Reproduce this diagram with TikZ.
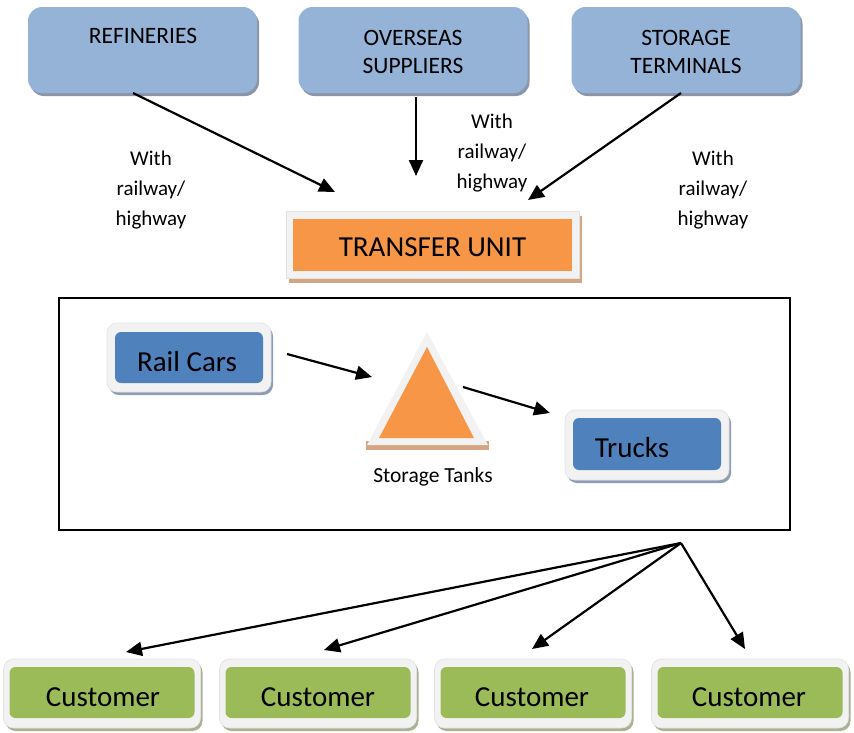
\documentclass[tikz,border=0pt]{standalone}
\usepackage{fontspec}
\setmainfont{Carlito}
\usetikzlibrary{arrows.meta,shadows}

\definecolor{topblue}{HTML}{95B3D7}
\definecolor{topshade}{HTML}{8A96A8}
\definecolor{framegray}{HTML}{F2F2F2}
\definecolor{frameedge}{HTML}{E2E2E2}
\definecolor{railblue}{HTML}{4F81BD}
\definecolor{blueshade}{HTML}{8E9DB4}
\definecolor{tankorange}{HTML}{F79646}
\definecolor{tanshade}{HTML}{D4A582}
\definecolor{custgreen}{HTML}{9BBB59}
\definecolor{greenshade}{HTML}{A9B393}

\begin{document}
\begin{tikzpicture}[x=1pt,y=-1pt,
  arr/.style={-{Triangle[length=16pt,width=14pt]}, line width=2.2pt},
  topbox/.style={rounded corners=14pt, fill=topblue, minimum width=229pt,
    minimum height=86pt, inner sep=0pt,
    drop shadow={opacity=1, fill=topshade, shadow xshift=2pt, shadow yshift=-3pt}},
  toptext/.style={font=\fontsize{23.5}{28}\selectfont, align=center, inner sep=0pt},
  routetext/.style={font=\fontsize{21}{30}\selectfont, align=center, inner sep=0pt, anchor=north},
  frame/.style={fill=framegray, draw=frameedge, line width=0.6pt, inner sep=0pt,
    drop shadow={opacity=1, fill=#1, shadow xshift=2pt, shadow yshift=-3pt}},
  framebox/.style={frame=#1, rounded corners=10pt, minimum width=164pt, minimum height=69pt},
  inbox/.style={rounded corners=6pt, inner sep=0pt, minimum width=148pt, minimum height=51pt},
  custframe/.style={frame=greenshade, rounded corners=10pt, minimum width=197pt, minimum height=69pt},
  custbox/.style={rounded corners=6pt, fill=custgreen, inner sep=0pt, minimum width=185pt, minimum height=51pt},
  bigtext/.style={font=\fontsize{29}{34}\selectfont, inner sep=0pt},
]
\useasboundingbox (0,0) rectangle (854,732);

% sources
\node[topbox] (ref) at (142.5,50) {};
\node[topbox] (ovs) at (413,50) {};
\node[topbox] (sto) at (686,50) {};
\node[toptext, anchor=base] (reft) at (143,43.5) {REFINERIES};
\node[toptext, anchor=north] (ovst) at (413,30.5) {OVERSEAS\\SUPPLIERS};
\node[toptext, anchor=north] (stot) at (686,30.5) {STORAGE\\TERMINALS};

% route labels
\node[routetext] (r1) at (151,151) {With\\railway/\\highway};
\node[routetext] (r2) at (492,114) {With\\railway/\\highway};
\node[routetext] (r3) at (713,151) {With\\railway/\\highway};

% transfer unit
\node[fill=framegray, draw=frameedge, line width=0.6pt, inner sep=0pt,
  minimum width=293pt, minimum height=67pt,
  drop shadow={opacity=1, fill=tanshade, shadow xshift=3pt, shadow yshift=-5pt}]
  (tuf) at (432.5,244.5) {};
\node[fill=tankorange, inner sep=0pt, minimum width=279pt, minimum height=52pt]
  (tu) at (432.5,245) {};
\node[bigtext] (tut) at (432.5,247.5) {TRANSFER UNIT};

% terminal enclosure
\draw[line width=1.4pt] (59,298) rectangle (790,530);

% rail cars
\node[framebox=blueshade] (railf) at (189,357.5) {};
\node[inbox, fill=railblue] (rail) at (189,357.5) {};
\node[bigtext] (railt) at (187,362) {Rail Cars};

% storage tank
\fill[tanshade] (366,441) -- (489,441) -- (489,450) -- (366,450) -- cycle;
\fill[framegray] (427,332) -- (488,445) -- (367,445) -- cycle;
\fill[tankorange] (427,347) -- (474,438) -- (379,438) -- cycle;
\node[font=\fontsize{21.5}{25}\selectfont, inner sep=0pt, anchor=base] (tank) at (433,482) {Storage Tanks};

% trucks
\node[framebox=blueshade, minimum height=70pt] (truckf) at (647,445) {};
\node[inbox, fill=railblue, minimum height=52pt] (truck) at (647,444) {};
\node[bigtext] (truckt) at (632,447.5) {Trucks};

% customers
\foreach \i/\cx/\tx in {1/102/103, 2/318/318, 3/533/532, 4/750/749}{
  \node[custframe] (cf\i) at (\cx,693.5) {};
  \node[custbox] (c\i) at (\cx,692.5) {};
  \node[bigtext] (ct\i) at (\tx,697) {Customer};
}

% connector end points
\coordinate (refout) at (133,93);
\coordinate (tuinA) at (335,192);
\coordinate (ovsout) at (416,97);
\coordinate (tuinB) at (416,176);
\coordinate (stoout) at (681,93);
\coordinate (tuinC) at (528,200);
\coordinate (railout) at (287,354);
\coordinate (tankin) at (372,377);
\coordinate (tankout) at (463,387);
\coordinate (truckin) at (550,413);
\coordinate (hub) at (681,543);
\coordinate (d1) at (126,652);
\coordinate (d2) at (324,650);
\coordinate (d3) at (532,649);
\coordinate (d4) at (745,649);

\draw[arr] (refout) -- (tuinA);
\draw[arr] (ovsout) -- (tuinB);
\draw[arr] (stoout) -- (tuinC);
\draw[arr] (railout) -- (tankin);
\draw[arr] (tankout) -- (truckin);
\foreach \j in {1,2,3,4}{
  \draw[arr] (hub) -- (d\j);
}
\end{tikzpicture}
\end{document}
